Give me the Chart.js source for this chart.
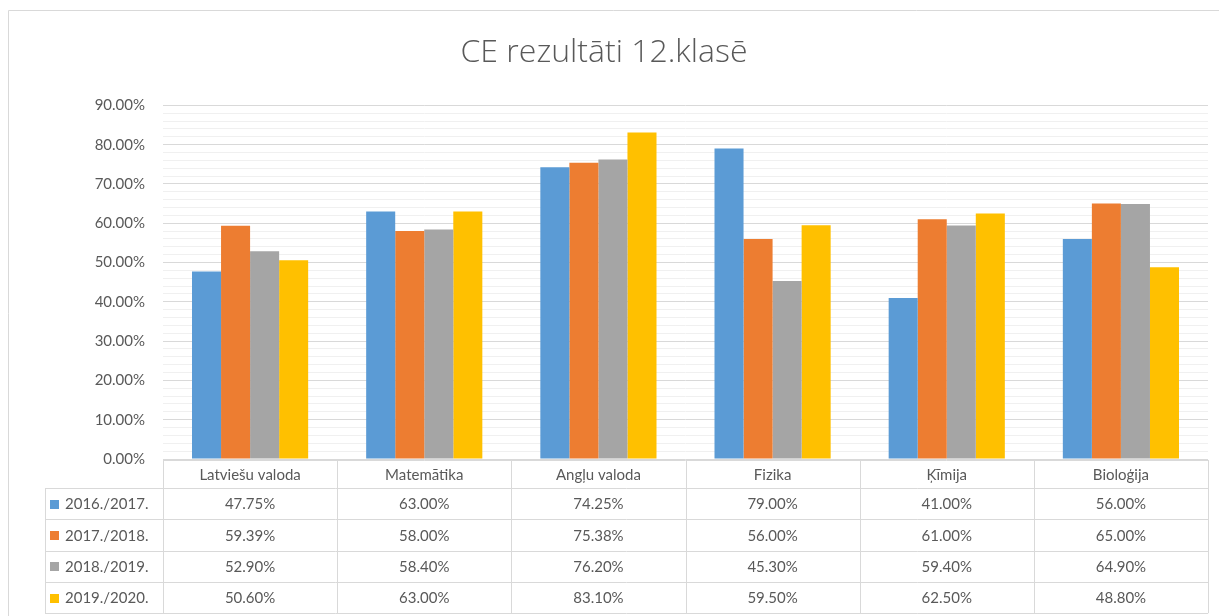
<!DOCTYPE html>
<html>
<head>
<meta charset="utf-8">
<script src="https://cdn.jsdelivr.net/npm/chart.js@4/dist/chart.umd.min.js"></script>
<style>
  html, body { margin: 0; padding: 0; background: #fff; }
  #wrap { width: 1219px; height: 616px; position: relative; }
</style>
</head>
<body>
<div id="wrap"><canvas id="grafiks"></canvas></div>
<script>
// dati
var kategorijas = ['Latviešu valoda', 'Matemātika', 'Angļu valoda', 'Fizika', 'Ķīmija', 'Bioloģija'];
var gadi = ['2016./2017.', '2017./2018.', '2018./2019.', '2019./2020.'];
var v2017 = [47.75, 63.00, 74.25, 79.00, 41.00, 56.00];
var v2018 = [59.39, 58.00, 75.38, 56.00, 61.00, 65.00];
var v2019 = [52.90, 58.40, 76.20, 45.30, 59.40, 64.90];
var v2020 = [50.60, 63.00, 83.10, 59.50, 62.50, 48.80];
var yTicks = [0, 10, 20, 30, 40, 50, 60, 70, 80, 90];

var krasas = ['#5B9BD5', '#ED7D31', '#A5A5A5', '#FFC000'];
var vertibas = [v2017, v2018, v2019, v2020];
var fonts = 'Lato, "Open Sans", sans-serif';
var teksts = '#595959';
var linija = '#d9d9d9';

// rāmis ap visu grafiku
var ramis = {
  id: 'ramis',
  beforeDraw: function(chart) {
    var ctx = chart.ctx;
    ctx.save();
    ctx.strokeStyle = linija;
    ctx.lineWidth = 1;
    ctx.beginPath();
    ctx.moveTo(8.5, 616);
    ctx.lineTo(8.5, 10.5);
    ctx.lineTo(1219, 10.5);
    ctx.stroke();
    ctx.restore();
  }
};

// datu tabula zem grafika
var tabula = {
  id: 'tabula',
  afterDraw: function(chart) {
    var ctx = chart.ctx;
    var ca = chart.chartArea;
    var x = chart.scales.x;
    var platums = (ca.right - ca.left) / kategorijas.length;
    var galvaAugsa = ca.bottom + 1;
    var galvaApaksa = 488;
    var rinda = 31.3;
    var kreisa = 45;
    var apaksa = galvaApaksa + rinda * gadi.length;

    ctx.save();
    ctx.strokeStyle = linija;
    ctx.lineWidth = 1;
    ctx.beginPath();
    // horizontālās līnijas
    ctx.moveTo(ca.left, Math.round(galvaAugsa) + 0.5);
    ctx.lineTo(ca.right, Math.round(galvaAugsa) + 0.5);
    for (var r = 0; r <= gadi.length; r++) {
      var y = Math.round(galvaApaksa + r * rinda) + 0.5;
      ctx.moveTo(kreisa, y);
      ctx.lineTo(ca.right, y);
    }
    // vertikālās līnijas
    for (var k = 0; k <= kategorijas.length; k++) {
      var lx = Math.round(ca.left + k * platums) + 0.5;
      ctx.moveTo(lx, galvaAugsa);
      ctx.lineTo(lx, apaksa);
    }
    ctx.moveTo(kreisa + 0.5, galvaApaksa);
    ctx.lineTo(kreisa + 0.5, apaksa);
    ctx.stroke();

    ctx.fillStyle = teksts;
    ctx.font = '15px ' + fonts;
    ctx.textAlign = 'center';
    ctx.textBaseline = 'middle';
    for (var i = 0; i < kategorijas.length; i++) {
      var cx = x.getPixelForValue(i);
      ctx.fillText(kategorijas[i], cx, (galvaAugsa + galvaApaksa) / 2 + 1);
      for (var s = 0; s < gadi.length; s++) {
        var cy = galvaApaksa + rinda * (s + 0.5) + 1;
        ctx.fillText(vertibas[s][i].toFixed(2) + '%', cx, cy);
      }
    }
    // leģendas atslēgas
    ctx.textAlign = 'left';
    for (var s2 = 0; s2 < gadi.length; s2++) {
      var ry = galvaApaksa + rinda * (s2 + 0.5);
      ctx.fillStyle = krasas[s2];
      ctx.fillRect(50, Math.round(ry - 4), 9, 9);
      ctx.fillStyle = teksts;
      ctx.fillText(gadi[s2], 65, ry + 1);
    }
    ctx.restore();
  }
};

var ctx = document.getElementById('grafiks').getContext('2d');
var grafiks = new Chart(ctx, {
  type: 'bar',
  data: {
    labels: kategorijas,
    datasets: gadi.map(function(g, i) {
      return {
        label: g,
        data: vertibas[i],
        backgroundColor: krasas[i],
        borderWidth: 0,
        categoryPercentage: 0.667,
        barPercentage: 1.0
      };
    })
  },
  options: {
    responsive: true,
    maintainAspectRatio: false,
    animation: false,
    layout: {
      padding: { left: 0, right: 11, top: 0, bottom: 157 }
    },
    plugins: {
      legend: { display: false },
      tooltip: { enabled: false },
      title: {
        display: true,
        text: 'CE rezultāti 12.klasē',
        color: teksts,
        font: { family: '"Open Sans", Lato, sans-serif', size: 32, weight: '300', lineHeight: 1.2 },
        padding: { top: 34, bottom: 33 }
      }
    },
    scales: {
      x: {
        display: false
      },
      y: {
        min: 0,
        max: 90,
        afterFit: function(scale) { scale.width = 163; },
        afterBuildTicks: function(scale) {
          var t = [];
          for (var v = 0; v <= 90; v += 2) t.push({ value: v });
          scale.ticks = t;
        },
        border: { display: false },
        grid: {
          drawTicks: false,
          color: function(c) {
            return yTicks.indexOf(c.tick.value) >= 0 ? '#d9d9d9' : '#f0f0f0';
          }
        },
        ticks: {
          autoSkip: false,
          padding: 18,
          color: teksts,
          font: { family: fonts, size: 15 },
          callback: function(v) {
            return yTicks.indexOf(v) >= 0 ? v.toFixed(2) + '%' : '';
          }
        }
      }
    }
  },
  plugins: [ramis, tabula]
});
</script>
</body>
</html>
